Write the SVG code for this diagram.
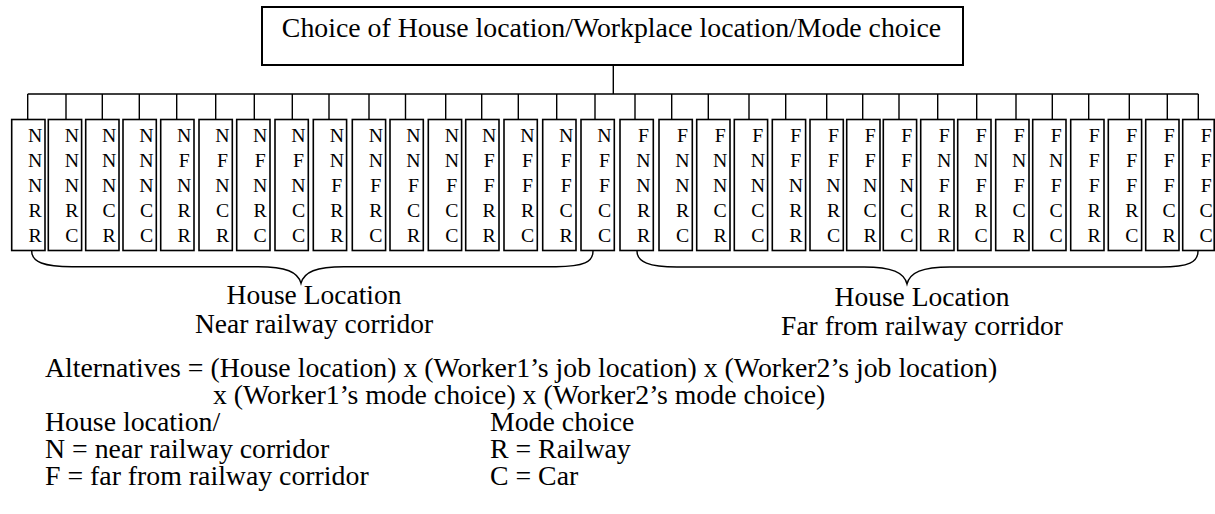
<svg xmlns="http://www.w3.org/2000/svg" width="1215" height="514" viewBox="0 0 1215 514">
<style>
.bg{fill:#fff}
.root{fill:#fff;stroke:#000;stroke-width:2}
.box{fill:#fff;stroke:#000;stroke-width:1.6}
.conn{fill:none;stroke:#000;stroke-width:1.4}
.brace{fill:none;stroke:#000;stroke-width:1.4}
.lbl{font-family:"Liberation Serif","Times New Roman",serif;font-size:19.8px;text-anchor:middle;fill:#000}
.title{font-family:"Liberation Serif","Times New Roman",serif;font-size:27.8px;text-anchor:middle;fill:#000}
.txt{font-family:"Liberation Serif","Times New Roman",serif;font-size:27.5px;fill:#000}
.leg{font-family:"Liberation Serif","Times New Roman",serif;font-size:27.8px;fill:#000}
.mid{text-anchor:middle}
</style>
<rect class="bg" x="0" y="0" width="1215" height="514"/>
<g id="connectors">
<path class="conn" d="M613.3,65 V94 M27.7,94 H1198.3"/>
<path class="conn" d="M27.7,94V119.5 M66,94V119.5 M102.3,94V119.5 M139.3,94V119.5 M176.7,94V119.5 M215.7,94V119.5 M254.3,94V119.5 M292.3,94V119.5 M329,94V119.5 M369,94V119.5 M405.5,94V119.5 M445.7,94V119.5 M481.7,94V119.5 M518.3,94V119.5 M556.7,94V119.5 M595,94V119.5 M635,94V119.5 M671.7,94V119.5 M708.3,94V119.5 M749,94V119.5 M785.7,94V119.5 M826.7,94V119.5 M862.7,94V119.5 M899,94V119.5 M937.7,94V119.5 M976.7,94V119.5 M1016,94V119.5 M1052.3,94V119.5 M1088.7,94V119.5 M1129.3,94V119.5 M1167.3,94V119.5 M1198.3,94V119.5"/>
</g>
<g id="root">
<rect class="root" x="262" y="7" width="701" height="58"/>
<text class="title" x="611.5" y="37">Choice of House location/Workplace location/Mode choice</text>
</g>
<g id="alt-1"><rect class="box" x="11.7" y="119.5" width="33.3" height="131"/><text class="lbl"><tspan x="35.2" y="141.8">N</tspan><tspan x="35.2" y="166.8">N</tspan><tspan x="35.2" y="191.8">N</tspan><tspan x="35.2" y="216.8">R</tspan><tspan x="35.2" y="241.8">R</tspan></text></g>
<g id="alt-2"><rect class="box" x="48.3" y="119.5" width="33.3" height="131"/><text class="lbl"><tspan x="71.8" y="141.8">N</tspan><tspan x="71.8" y="166.8">N</tspan><tspan x="71.8" y="191.8">N</tspan><tspan x="71.8" y="216.8">R</tspan><tspan x="71.8" y="241.8">C</tspan></text></g>
<g id="alt-3"><rect class="box" x="85.7" y="119.5" width="33.3" height="131"/><text class="lbl"><tspan x="109.2" y="141.8">N</tspan><tspan x="109.2" y="166.8">N</tspan><tspan x="109.2" y="191.8">N</tspan><tspan x="109.2" y="216.8">C</tspan><tspan x="109.2" y="241.8">R</tspan></text></g>
<g id="alt-4"><rect class="box" x="123" y="119.5" width="33.3" height="131"/><text class="lbl"><tspan x="146.5" y="141.8">N</tspan><tspan x="146.5" y="166.8">N</tspan><tspan x="146.5" y="191.8">N</tspan><tspan x="146.5" y="216.8">C</tspan><tspan x="146.5" y="241.8">C</tspan></text></g>
<g id="alt-5"><rect class="box" x="160.7" y="119.5" width="33.3" height="131"/><text class="lbl"><tspan x="184.2" y="141.8">N</tspan><tspan x="184.2" y="166.8">F</tspan><tspan x="184.2" y="191.8">N</tspan><tspan x="184.2" y="216.8">R</tspan><tspan x="184.2" y="241.8">R</tspan></text></g>
<g id="alt-6"><rect class="box" x="199" y="119.5" width="33.3" height="131"/><text class="lbl"><tspan x="222.5" y="141.8">N</tspan><tspan x="222.5" y="166.8">F</tspan><tspan x="222.5" y="191.8">N</tspan><tspan x="222.5" y="216.8">C</tspan><tspan x="222.5" y="241.8">R</tspan></text></g>
<g id="alt-7"><rect class="box" x="236.7" y="119.5" width="33.3" height="131"/><text class="lbl"><tspan x="260.2" y="141.8">N</tspan><tspan x="260.2" y="166.8">F</tspan><tspan x="260.2" y="191.8">N</tspan><tspan x="260.2" y="216.8">R</tspan><tspan x="260.2" y="241.8">C</tspan></text></g>
<g id="alt-8"><rect class="box" x="275" y="119.5" width="33.3" height="131"/><text class="lbl"><tspan x="298.5" y="141.8">N</tspan><tspan x="298.5" y="166.8">F</tspan><tspan x="298.5" y="191.8">N</tspan><tspan x="298.5" y="216.8">C</tspan><tspan x="298.5" y="241.8">C</tspan></text></g>
<g id="alt-9"><rect class="box" x="313.3" y="119.5" width="33.3" height="131"/><text class="lbl"><tspan x="336.8" y="141.8">N</tspan><tspan x="336.8" y="166.8">N</tspan><tspan x="336.8" y="191.8">F</tspan><tspan x="336.8" y="216.8">R</tspan><tspan x="336.8" y="241.8">R</tspan></text></g>
<g id="alt-10"><rect class="box" x="352.3" y="119.5" width="33.3" height="131"/><text class="lbl"><tspan x="375.8" y="141.8">N</tspan><tspan x="375.8" y="166.8">N</tspan><tspan x="375.8" y="191.8">F</tspan><tspan x="375.8" y="216.8">R</tspan><tspan x="375.8" y="241.8">C</tspan></text></g>
<g id="alt-11"><rect class="box" x="390" y="119.5" width="33.3" height="131"/><text class="lbl"><tspan x="413.5" y="141.8">N</tspan><tspan x="413.5" y="166.8">N</tspan><tspan x="413.5" y="191.8">F</tspan><tspan x="413.5" y="216.8">C</tspan><tspan x="413.5" y="241.8">R</tspan></text></g>
<g id="alt-12"><rect class="box" x="428.3" y="119.5" width="33.3" height="131"/><text class="lbl"><tspan x="451.8" y="141.8">N</tspan><tspan x="451.8" y="166.8">N</tspan><tspan x="451.8" y="191.8">F</tspan><tspan x="451.8" y="216.8">C</tspan><tspan x="451.8" y="241.8">C</tspan></text></g>
<g id="alt-13"><rect class="box" x="465.7" y="119.5" width="33.3" height="131"/><text class="lbl"><tspan x="489.2" y="141.8">N</tspan><tspan x="489.2" y="166.8">F</tspan><tspan x="489.2" y="191.8">F</tspan><tspan x="489.2" y="216.8">R</tspan><tspan x="489.2" y="241.8">R</tspan></text></g>
<g id="alt-14"><rect class="box" x="504" y="119.5" width="33.3" height="131"/><text class="lbl"><tspan x="527.5" y="141.8">N</tspan><tspan x="527.5" y="166.8">F</tspan><tspan x="527.5" y="191.8">F</tspan><tspan x="527.5" y="216.8">R</tspan><tspan x="527.5" y="241.8">C</tspan></text></g>
<g id="alt-15"><rect class="box" x="542.7" y="119.5" width="33.3" height="131"/><text class="lbl"><tspan x="566.2" y="141.8">N</tspan><tspan x="566.2" y="166.8">F</tspan><tspan x="566.2" y="191.8">F</tspan><tspan x="566.2" y="216.8">C</tspan><tspan x="566.2" y="241.8">R</tspan></text></g>
<g id="alt-16"><rect class="box" x="581" y="119.5" width="33.3" height="131"/><text class="lbl"><tspan x="604.5" y="141.8">N</tspan><tspan x="604.5" y="166.8">F</tspan><tspan x="604.5" y="191.8">F</tspan><tspan x="604.5" y="216.8">C</tspan><tspan x="604.5" y="241.8">C</tspan></text></g>
<g id="alt-17"><rect class="box" x="620" y="119.5" width="33.3" height="131"/><text class="lbl"><tspan x="643.5" y="141.8">F</tspan><tspan x="643.5" y="166.8">N</tspan><tspan x="643.5" y="191.8">N</tspan><tspan x="643.5" y="216.8">R</tspan><tspan x="643.5" y="241.8">R</tspan></text></g>
<g id="alt-18"><rect class="box" x="659" y="119.5" width="33.3" height="131"/><text class="lbl"><tspan x="682.5" y="141.8">F</tspan><tspan x="682.5" y="166.8">N</tspan><tspan x="682.5" y="191.8">N</tspan><tspan x="682.5" y="216.8">R</tspan><tspan x="682.5" y="241.8">C</tspan></text></g>
<g id="alt-19"><rect class="box" x="696.7" y="119.5" width="33.3" height="131"/><text class="lbl"><tspan x="720.2" y="141.8">F</tspan><tspan x="720.2" y="166.8">N</tspan><tspan x="720.2" y="191.8">N</tspan><tspan x="720.2" y="216.8">C</tspan><tspan x="720.2" y="241.8">R</tspan></text></g>
<g id="alt-20"><rect class="box" x="734.3" y="119.5" width="33.3" height="131"/><text class="lbl"><tspan x="757.8" y="141.8">F</tspan><tspan x="757.8" y="166.8">N</tspan><tspan x="757.8" y="191.8">N</tspan><tspan x="757.8" y="216.8">C</tspan><tspan x="757.8" y="241.8">C</tspan></text></g>
<g id="alt-21"><rect class="box" x="772.3" y="119.5" width="33.3" height="131"/><text class="lbl"><tspan x="795.8" y="141.8">F</tspan><tspan x="795.8" y="166.8">F</tspan><tspan x="795.8" y="191.8">N</tspan><tspan x="795.8" y="216.8">R</tspan><tspan x="795.8" y="241.8">R</tspan></text></g>
<g id="alt-22"><rect class="box" x="810" y="119.5" width="33.3" height="131"/><text class="lbl"><tspan x="833.5" y="141.8">F</tspan><tspan x="833.5" y="166.8">F</tspan><tspan x="833.5" y="191.8">N</tspan><tspan x="833.5" y="216.8">R</tspan><tspan x="833.5" y="241.8">C</tspan></text></g>
<g id="alt-23"><rect class="box" x="846.7" y="119.5" width="33.3" height="131"/><text class="lbl"><tspan x="870.2" y="141.8">F</tspan><tspan x="870.2" y="166.8">F</tspan><tspan x="870.2" y="191.8">N</tspan><tspan x="870.2" y="216.8">C</tspan><tspan x="870.2" y="241.8">R</tspan></text></g>
<g id="alt-24"><rect class="box" x="883.3" y="119.5" width="33.3" height="131"/><text class="lbl"><tspan x="906.8" y="141.8">F</tspan><tspan x="906.8" y="166.8">F</tspan><tspan x="906.8" y="191.8">N</tspan><tspan x="906.8" y="216.8">C</tspan><tspan x="906.8" y="241.8">C</tspan></text></g>
<g id="alt-25"><rect class="box" x="920.7" y="119.5" width="33.3" height="131"/><text class="lbl"><tspan x="944.2" y="141.8">F</tspan><tspan x="944.2" y="166.8">N</tspan><tspan x="944.2" y="191.8">F</tspan><tspan x="944.2" y="216.8">R</tspan><tspan x="944.2" y="241.8">R</tspan></text></g>
<g id="alt-26"><rect class="box" x="957.7" y="119.5" width="33.3" height="131"/><text class="lbl"><tspan x="981.2" y="141.8">F</tspan><tspan x="981.2" y="166.8">N</tspan><tspan x="981.2" y="191.8">F</tspan><tspan x="981.2" y="216.8">R</tspan><tspan x="981.2" y="241.8">C</tspan></text></g>
<g id="alt-27"><rect class="box" x="995.7" y="119.5" width="33.3" height="131"/><text class="lbl"><tspan x="1019.2" y="141.8">F</tspan><tspan x="1019.2" y="166.8">N</tspan><tspan x="1019.2" y="191.8">F</tspan><tspan x="1019.2" y="216.8">C</tspan><tspan x="1019.2" y="241.8">R</tspan></text></g>
<g id="alt-28"><rect class="box" x="1032.7" y="119.5" width="33.3" height="131"/><text class="lbl"><tspan x="1056.2" y="141.8">F</tspan><tspan x="1056.2" y="166.8">N</tspan><tspan x="1056.2" y="191.8">F</tspan><tspan x="1056.2" y="216.8">C</tspan><tspan x="1056.2" y="241.8">C</tspan></text></g>
<g id="alt-29"><rect class="box" x="1070.7" y="119.5" width="33.3" height="131"/><text class="lbl"><tspan x="1094.2" y="141.8">F</tspan><tspan x="1094.2" y="166.8">F</tspan><tspan x="1094.2" y="191.8">F</tspan><tspan x="1094.2" y="216.8">R</tspan><tspan x="1094.2" y="241.8">R</tspan></text></g>
<g id="alt-30"><rect class="box" x="1108.3" y="119.5" width="33.3" height="131"/><text class="lbl"><tspan x="1131.8" y="141.8">F</tspan><tspan x="1131.8" y="166.8">F</tspan><tspan x="1131.8" y="191.8">F</tspan><tspan x="1131.8" y="216.8">R</tspan><tspan x="1131.8" y="241.8">C</tspan></text></g>
<g id="alt-31"><rect class="box" x="1145.7" y="119.5" width="33.3" height="131"/><text class="lbl"><tspan x="1169.2" y="141.8">F</tspan><tspan x="1169.2" y="166.8">F</tspan><tspan x="1169.2" y="191.8">F</tspan><tspan x="1169.2" y="216.8">C</tspan><tspan x="1169.2" y="241.8">R</tspan></text></g>
<g id="alt-32"><rect class="box" x="1182.7" y="119.5" width="31.5" height="131"/><text class="lbl"><tspan x="1206.2" y="141.8">F</tspan><tspan x="1206.2" y="166.8">F</tspan><tspan x="1206.2" y="191.8">F</tspan><tspan x="1206.2" y="216.8">C</tspan><tspan x="1206.2" y="241.8">C</tspan></text></g>
<g id="brace-near">
<path class="brace" d="M31.7,251 C31.7,262 44,266.7 72,266.7 L258,266.7 C286,266.7 298,272 301,283.3 C304,272 316,266.7 344,266.7 L556,266.7 C584,266.7 593,262 593,251"/>
<text class="txt mid" x="314" y="304">House Location</text>
<text class="txt mid" x="314" y="333">Near railway corridor</text>
</g>
<g id="brace-far">
<path class="brace" d="M637,251 C637,262 649,267 677,267 L864,267 C892,267 904,272.5 907,284 C910,272.5 922,267 950,267 L1161,267 C1189,267 1198,262 1198,251"/>
<text class="txt mid" x="922" y="306">House Location</text>
<text class="txt mid" x="922" y="335">Far from railway corridor</text>
</g>
<g id="legend">
<text class="leg" x="45" y="377">Alternatives = (House location) x (Worker1’s job location) x (Worker2’s job location)</text>
<text class="leg" x="213" y="404">x (Worker1’s mode choice) x (Worker2’s mode choice)</text>
<text class="leg" x="45" y="431">House location/</text>
<text class="leg" x="45" y="458">N = near railway corridor</text>
<text class="leg" x="45" y="485">F = far from railway corridor</text>
<text class="leg" x="490" y="431">Mode choice</text>
<text class="leg" x="490" y="458">R = Railway</text>
<text class="leg" x="490" y="485">C = Car</text>
</g>
</svg>
